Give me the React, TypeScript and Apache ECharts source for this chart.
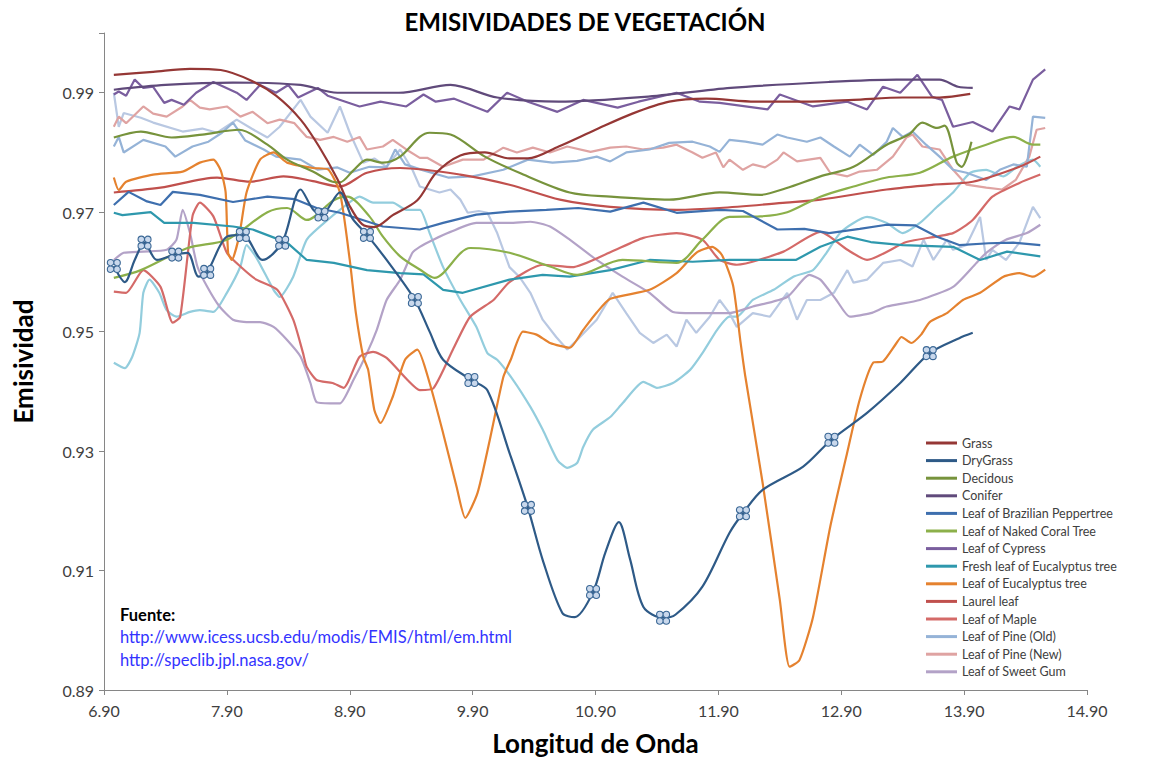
import React, { useEffect, useRef } from "react";
import * as echarts from "echarts";

type P = [number, number][];

const xTicks = { min: 6.9, max: 14.9, interval: 1 };
const yTicks = { min: 0.89, max: 1.0, interval: 0.02 };

const grass: P = [[6.98,0.993],[7.3,0.9935],[7.6,0.994],[7.85,0.9938],[8.1,0.992],[8.3,0.9895],[8.5,0.9855],[8.65,0.981],[8.8,0.9755],[8.9,0.971],[9.0,0.968],[9.1,0.9675],[9.25,0.9695],[9.45,0.972],[9.6,0.9765],[9.8,0.9795],[10.0,0.98],[10.2,0.979],[10.35,0.979],[10.6,0.981],[10.9,0.9838],[11.2,0.9865],[11.5,0.9885],[11.8,0.989],[12.2,0.9885],[12.6,0.9885],[13.0,0.9888],[13.4,0.9892],[13.7,0.9892],[13.95,0.9898]];

const dryGrass: P = [[6.98,0.961],[7.07,0.9583],[7.15,0.962],[7.23,0.9649],[7.33,0.962],[7.48,0.9629],[7.58,0.9632],[7.67,0.9592],[7.74,0.96],[7.9,0.9659],[8.03,0.9662],[8.19,0.962],[8.35,0.9649],[8.5,0.9738],[8.6,0.9705],[8.67,0.9696],[8.82,0.9733],[8.92,0.969],[9.04,0.9662],[9.2,0.962],[9.43,0.9553],[9.55,0.95],[9.66,0.9453],[9.89,0.9419],[10.02,0.9402],[10.2,0.9297],[10.35,0.9205],[10.47,0.9118],[10.63,0.9029],[10.73,0.9022],[10.88,0.9064],[10.98,0.913],[11.09,0.9181],[11.18,0.912],[11.29,0.9039],[11.45,0.9021],[11.55,0.9026],[11.77,0.9073],[11.99,0.9163],[12.1,0.9196],[12.26,0.9235],[12.59,0.9274],[12.82,0.9319],[13.11,0.9364],[13.38,0.9414],[13.62,0.9464],[13.86,0.9489],[13.97,0.9498]];
const dryGrassMarkers = [6.98,7.23,7.48,7.74,8.03,8.35,8.67,9.04,9.43,9.89,10.35,10.88,11.45,12.1,12.82,13.62];

const decidous: P = [[6.98,0.9825],[7.2,0.9835],[7.45,0.9825],[7.7,0.983],[8.0,0.9838],[8.23,0.9813],[8.39,0.9788],[8.6,0.9768],[8.76,0.9751],[8.82,0.975],[8.93,0.977],[9.04,0.9788],[9.17,0.9783],[9.31,0.9793],[9.47,0.9826],[9.55,0.9833],[9.72,0.983],[10.0,0.9793],[10.28,0.9766],[10.69,0.9733],[11.02,0.9726],[11.5,0.9721],[11.91,0.9733],[12.24,0.9729],[12.45,0.974],[12.73,0.976],[13.0,0.9776],[13.27,0.9813],[13.45,0.983],[13.56,0.985],[13.68,0.9841],[13.74,0.9845],[13.84,0.9783],[13.88,0.9776],[13.96,0.9818]];

const conifer: P = [[6.98,0.9905],[7.4,0.9913],[7.95,0.9917],[8.5,0.9913],[8.8,0.99],[9.3,0.99],[9.72,0.9913],[10.1,0.9892],[10.6,0.9885],[11.3,0.9893],[12.0,0.9908],[12.8,0.9918],[13.35,0.9922],[13.7,0.9922],[13.85,0.991],[13.97,0.9908]];

const brazilian: P = [[6.98,0.9712],[7.1,0.9734],[7.25,0.9718],[7.36,0.9712],[7.46,0.9734],[7.68,0.9729],[7.95,0.9717],[8.23,0.9726],[8.45,0.9722],[8.63,0.9707],[8.82,0.9699],[9.17,0.9676],[9.47,0.9671],[9.66,0.9682],[9.93,0.9696],[10.2,0.9701],[10.5,0.9704],[10.76,0.9707],[11.02,0.9701],[11.29,0.9716],[11.56,0.9699],[11.91,0.9704],[12.1,0.9702],[12.38,0.9671],[12.6,0.9672],[12.8,0.9665],[13.05,0.9672],[13.27,0.9679],[13.5,0.9678],[13.68,0.9659],[13.86,0.9645],[14.1,0.9648],[14.3,0.9649],[14.52,0.9645]];

const nakedCoral: P = [[6.98,0.959],[7.2,0.9603],[7.58,0.964],[7.9,0.9654],[8.23,0.97],[8.39,0.9707],[8.55,0.9687],[8.77,0.972],[8.88,0.9726],[9.06,0.9693],[9.17,0.9659],[9.31,0.9626],[9.47,0.9604],[9.59,0.959],[9.88,0.964],[10.2,0.9632],[10.53,0.9609],[10.75,0.9595],[11.12,0.962],[11.56,0.9615],[11.77,0.9654],[11.99,0.9692],[12.24,0.9693],[12.46,0.97],[12.73,0.9726],[13.0,0.9743],[13.27,0.9758],[13.54,0.9766],[13.81,0.9793],[14.08,0.9813],[14.3,0.9826],[14.46,0.9813],[14.52,0.9813]];

const cypress: P = [[6.98,0.9897],[7.02,0.9902],[7.08,0.9895],[7.15,0.9922],[7.22,0.9908],[7.3,0.991],[7.39,0.9883],[7.45,0.9888],[7.55,0.988],[7.65,0.99],[7.79,0.9918],[7.98,0.99],[8.06,0.9888],[8.17,0.9913],[8.3,0.99],[8.4,0.9913],[8.48,0.9892],[8.64,0.9908],[8.72,0.9895],[8.98,0.9877],[9.15,0.9885],[9.36,0.9877],[9.5,0.9897],[9.6,0.9885],[9.75,0.989],[10.02,0.9868],[10.18,0.99],[10.35,0.9885],[10.59,0.9868],[10.8,0.9888],[11.08,0.9875],[11.25,0.9885],[11.56,0.99],[11.75,0.9885],[11.91,0.9883],[12.3,0.9872],[12.4,0.9897],[12.67,0.9877],[12.95,0.9885],[13.11,0.9872],[13.24,0.991],[13.38,0.99],[13.52,0.993],[13.64,0.9893],[13.72,0.9888],[13.81,0.9843],[13.97,0.9851],[14.13,0.9835],[14.27,0.9877],[14.35,0.9872],[14.46,0.9922],[14.56,0.9939]];

const freshEucalyptus: P = [[6.98,0.9699],[7.05,0.9695],[7.28,0.97],[7.39,0.9682],[7.63,0.9682],[7.95,0.9676],[8.11,0.9671],[8.39,0.9649],[8.55,0.962],[8.77,0.9615],[9.04,0.9603],[9.31,0.9598],[9.5,0.9596],[9.66,0.957],[9.82,0.9565],[10.2,0.9587],[10.47,0.9595],[10.69,0.9592],[11.02,0.9603],[11.34,0.962],[11.69,0.9617],[11.99,0.962],[12.26,0.962],[12.53,0.962],[12.73,0.9642],[12.95,0.9659],[13.14,0.965],[13.4,0.9645],[13.81,0.9642],[14.03,0.962],[14.25,0.9634],[14.52,0.9626]];

const eucalyptus: P = [[6.98,0.9758],[7.02,0.9737],[7.08,0.9751],[7.3,0.9763],[7.54,0.9768],[7.68,0.9783],[7.79,0.9788],[7.85,0.977],[7.89,0.9733],[7.91,0.9632],[7.94,0.962],[8.0,0.966],[8.06,0.9733],[8.17,0.9788],[8.28,0.98],[8.39,0.9783],[8.6,0.9774],[8.72,0.9772],[8.82,0.9733],[8.9,0.962],[8.95,0.9531],[9.01,0.9458],[9.05,0.9436],[9.1,0.9369],[9.15,0.9347],[9.25,0.9391],[9.35,0.9453],[9.45,0.947],[9.55,0.9414],[9.66,0.933],[9.77,0.924],[9.84,0.9188],[9.94,0.923],[10.04,0.9319],[10.15,0.9424],[10.21,0.9453],[10.31,0.95],[10.42,0.9495],[10.53,0.9481],[10.69,0.9473],[10.8,0.9503],[10.91,0.9532],[11.02,0.9555],[11.34,0.957],[11.56,0.9598],[11.72,0.9632],[11.85,0.9642],[11.93,0.9628],[12.02,0.9577],[12.08,0.9483],[12.12,0.9424],[12.26,0.9247],[12.4,0.9051],[12.48,0.8939],[12.56,0.895],[12.67,0.9022],[12.81,0.9173],[12.94,0.929],[13.05,0.9386],[13.16,0.9448],[13.24,0.945],[13.35,0.9481],[13.39,0.9491],[13.47,0.9481],[13.55,0.9495],[13.62,0.9516],[13.76,0.9531],[13.89,0.9553],[14.03,0.9565],[14.22,0.9592],[14.35,0.9598],[14.46,0.9592],[14.56,0.9604]];

const laurel: P = [[6.98,0.9733],[7.36,0.9741],[7.82,0.9758],[8.09,0.9751],[8.36,0.976],[8.6,0.9752],[8.82,0.9743],[9.04,0.9766],[9.31,0.9774],[9.8,0.9763],[10.2,0.9746],[10.61,0.9721],[11.02,0.9709],[11.56,0.9704],[11.91,0.9707],[12.45,0.9716],[12.73,0.9721],[13.27,0.9738],[13.65,0.9746],[13.97,0.9751],[14.35,0.9776],[14.52,0.9793]];

const maple: P = [[6.98,0.9567],[7.08,0.9565],[7.22,0.9603],[7.36,0.9575],[7.46,0.9515],[7.52,0.9525],[7.62,0.9693],[7.68,0.9716],[7.79,0.9693],[7.9,0.9632],[8.01,0.9609],[8.14,0.9587],[8.31,0.957],[8.44,0.952],[8.52,0.9464],[8.55,0.9441],[8.63,0.9419],[8.76,0.9414],[8.85,0.9406],[8.98,0.9458],[9.09,0.9466],[9.2,0.9456],[9.37,0.9419],[9.47,0.9402],[9.58,0.9405],[9.74,0.947],[9.88,0.9525],[10.07,0.9553],[10.2,0.9583],[10.47,0.9612],[10.71,0.9608],[11.02,0.9633],[11.29,0.9657],[11.56,0.9665],[11.77,0.9654],[11.91,0.962],[12.05,0.9612],[12.43,0.9634],[12.73,0.9667],[12.95,0.9637],[13.11,0.962],[13.43,0.965],[13.81,0.9665],[13.97,0.9687],[14.13,0.9726],[14.35,0.9749],[14.52,0.9763]];

const pineOld: P = [[6.98,0.981],[7.02,0.9826],[7.06,0.98],[7.22,0.9821],[7.4,0.981],[7.48,0.9793],[7.62,0.981],[7.75,0.9818],[7.86,0.9833],[7.95,0.985],[8.05,0.982],[8.2,0.9805],[8.3,0.9793],[8.5,0.9788],[8.64,0.9771],[8.8,0.9775],[8.9,0.9766],[9.06,0.9776],[9.2,0.9775],[9.27,0.9805],[9.35,0.978],[9.5,0.977],[9.7,0.9758],[9.9,0.976],[10.15,0.9771],[10.35,0.9788],[10.55,0.9783],[10.75,0.9786],[10.91,0.9793],[11.02,0.9785],[11.15,0.98],[11.34,0.9805],[11.5,0.9816],[11.69,0.9818],[11.83,0.981],[11.91,0.9801],[11.99,0.9821],[12.12,0.9818],[12.26,0.9813],[12.38,0.983],[12.46,0.9825],[12.62,0.9818],[12.73,0.9825],[12.84,0.981],[12.97,0.9793],[13.05,0.9813],[13.16,0.9796],[13.27,0.9818],[13.32,0.9841],[13.4,0.9826],[13.48,0.9835],[13.59,0.9813],[13.7,0.9793],[13.81,0.9771],[13.92,0.9766],[14.08,0.9754],[14.19,0.9771],[14.3,0.978],[14.41,0.9776],[14.46,0.986],[14.56,0.9858]];

const pineNew: P = [[6.98,0.9843],[7.02,0.986],[7.08,0.9849],[7.22,0.9877],[7.3,0.9865],[7.41,0.986],[7.54,0.9877],[7.6,0.9888],[7.68,0.9875],[7.76,0.9872],[7.9,0.9877],[8.01,0.986],[8.11,0.9868],[8.23,0.9849],[8.33,0.9855],[8.45,0.9849],[8.55,0.9826],[8.66,0.9821],[8.77,0.9826],[8.88,0.9818],[8.98,0.9826],[9.04,0.9805],[9.17,0.981],[9.25,0.9821],[9.36,0.9805],[9.47,0.9791],[9.53,0.9791],[9.66,0.9776],[9.82,0.9788],[9.99,0.9788],[10.15,0.9808],[10.26,0.98],[10.39,0.9808],[10.53,0.98],[10.67,0.981],[10.86,0.9801],[11.02,0.9808],[11.15,0.981],[11.29,0.9805],[11.45,0.9808],[11.56,0.9813],[11.69,0.98],[11.77,0.9791],[11.88,0.98],[11.94,0.9775],[11.99,0.9788],[12.1,0.9771],[12.18,0.978],[12.28,0.9775],[12.38,0.9788],[12.43,0.98],[12.54,0.9785],[12.73,0.9791],[12.81,0.9766],[12.95,0.976],[13.05,0.9768],[13.19,0.9771],[13.32,0.9793],[13.43,0.9825],[13.48,0.983],[13.56,0.981],[13.7,0.9805],[13.81,0.9771],[13.92,0.9746],[14.08,0.9741],[14.21,0.9738],[14.32,0.9754],[14.43,0.9793],[14.49,0.9838],[14.56,0.9841]];

const sweetGum: P = [[6.98,0.962],[7.06,0.9632],[7.22,0.9634],[7.41,0.9637],[7.49,0.9654],[7.54,0.9704],[7.6,0.9665],[7.66,0.9609],[7.74,0.9575],[7.84,0.9542],[7.95,0.952],[8.06,0.9516],[8.17,0.9516],[8.28,0.9508],[8.39,0.9486],[8.5,0.9458],[8.58,0.9414],[8.63,0.9382],[8.74,0.938],[8.82,0.938],[8.93,0.9419],[9.04,0.9464],[9.12,0.9503],[9.2,0.9553],[9.31,0.9587],[9.41,0.9632],[9.47,0.9642],[9.58,0.9654],[9.72,0.9667],[9.93,0.9682],[10.2,0.9682],[10.37,0.9684],[10.53,0.9676],[10.69,0.9654],[10.91,0.962],[11.12,0.9592],[11.34,0.9565],[11.53,0.9533],[11.69,0.9531],[11.99,0.9531],[12.18,0.9542],[12.46,0.9558],[12.64,0.9595],[12.73,0.9587],[12.86,0.9553],[12.97,0.9525],[13.14,0.9531],[13.27,0.9542],[13.54,0.9553],[13.81,0.9575],[14.0,0.9615],[14.08,0.9632],[14.24,0.9654],[14.41,0.9665],[14.52,0.9679]];

const serie15: P = [[6.98,0.99],[7.02,0.9843],[7.06,0.9866],[7.2,0.9858],[7.3,0.985],[7.54,0.9835],[7.7,0.984],[7.82,0.9833],[7.98,0.9855],[8.1,0.984],[8.23,0.9825],[8.33,0.9843],[8.5,0.9888],[8.58,0.986],[8.72,0.9833],[8.82,0.9877],[8.9,0.9833],[9.01,0.9783],[9.1,0.979],[9.2,0.9776],[9.31,0.9805],[9.41,0.9771],[9.47,0.9743],[9.63,0.9733],[9.72,0.9738],[9.8,0.9721],[9.86,0.9699],[9.95,0.9702],[10.02,0.9699],[10.1,0.9665],[10.2,0.9608],[10.28,0.9592],[10.37,0.9565],[10.47,0.952],[10.58,0.9491],[10.67,0.947],[10.75,0.9486],[10.91,0.952],[11.04,0.9565],[11.15,0.9531],[11.26,0.9498],[11.37,0.9481],[11.48,0.9495],[11.56,0.9475],[11.64,0.952],[11.72,0.9498],[11.83,0.9525],[11.91,0.9553],[11.99,0.9531],[12.05,0.9508],[12.18,0.9531],[12.32,0.9525],[12.46,0.9565],[12.54,0.952],[12.62,0.9553],[12.73,0.9553],[12.84,0.9565],[12.95,0.9603],[13.0,0.9582],[13.11,0.9587],[13.24,0.9615],[13.38,0.962],[13.48,0.9609],[13.57,0.9654],[13.65,0.962],[13.76,0.9654],[13.81,0.9637],[13.92,0.9645],[14.03,0.9692],[14.08,0.962],[14.13,0.9637],[14.24,0.962],[14.35,0.9649],[14.46,0.9709],[14.52,0.969]];

const serie16: P = [[6.98,0.9448],[7.07,0.9439],[7.13,0.9458],[7.19,0.9498],[7.22,0.9565],[7.27,0.9587],[7.35,0.9565],[7.41,0.9536],[7.49,0.9525],[7.6,0.9533],[7.68,0.9536],[7.79,0.9533],[7.9,0.9565],[8.01,0.9609],[8.06,0.9645],[8.14,0.9624],[8.28,0.957],[8.33,0.9558],[8.44,0.9592],[8.55,0.9654],[8.72,0.9687],[8.82,0.9704],[8.98,0.9726],[9.09,0.9716],[9.25,0.9716],[9.36,0.9704],[9.47,0.9704],[9.55,0.9665],[9.66,0.9608],[9.8,0.9553],[9.93,0.9508],[10.02,0.9464],[10.1,0.9453],[10.23,0.9419],[10.37,0.9374],[10.47,0.9336],[10.59,0.9285],[10.67,0.9272],[10.75,0.928],[10.8,0.9307],[10.88,0.9336],[11.02,0.9357],[11.12,0.938],[11.29,0.9416],[11.4,0.9406],[11.53,0.9414],[11.67,0.9436],[11.77,0.9464],[11.89,0.9503],[11.99,0.9525],[12.05,0.9525],[12.18,0.9553],[12.35,0.957],[12.51,0.9592],[12.67,0.9603],[12.78,0.9632],[12.89,0.9665],[13.0,0.9682],[13.11,0.9692],[13.27,0.9682],[13.4,0.9665],[13.54,0.9682],[13.68,0.9709],[13.81,0.9733],[13.95,0.9766],[14.08,0.9771],[14.22,0.976],[14.33,0.9776],[14.46,0.9788],[14.52,0.9776]];

const legendNames = ["Grass","DryGrass","Decidous","Conifer","Leaf of Brazilian Peppertree","Leaf of Naked Coral Tree","Leaf of Cypress","Fresh leaf of Eucalyptus tree","Leaf of Eucalyptus tree","Laurel leaf","Leaf of Maple","Leaf of Pine (Old)","Leaf of Pine (New)","Leaf of Sweet Gum"];

const sourceLines = ["Fuente:", "http://www.icess.ucsb.edu/modis/EMIS/html/em.html", "http://speclib.jpl.nasa.gov/"];

const FONT = "Lato, 'Open Sans', sans-serif";
const MARKER = "path://M-2,-1a1,1 0 1,0 2,0a1,1 0 1,0 -2,0M0,-1a1,1 0 1,0 2,0a1,1 0 1,0 -2,0M-2,1a1,1 0 1,0 2,0a1,1 0 1,0 -2,0M0,1a1,1 0 1,0 2,0a1,1 0 1,0 -2,0";

const defs: { name: string; data: P; color: string; smooth: number | boolean }[] = [
  { name: "Serie 16", data: serie16, color: "#93CDDD", smooth: 0.2 },
  { name: "Serie 15", data: serie15, color: "#B9C8E2", smooth: false },
  { name: "Leaf of Sweet Gum", data: sweetGum, color: "#B3A2C7", smooth: 0.2 },
  { name: "Leaf of Pine (New)", data: pineNew, color: "#DFA3A2", smooth: false },
  { name: "Leaf of Pine (Old)", data: pineOld, color: "#95B3D7", smooth: false },
  { name: "Leaf of Maple", data: maple, color: "#D46A68", smooth: 0.2 },
  { name: "Laurel leaf", data: laurel, color: "#C0504D", smooth: 0.3 },
  { name: "Leaf of Eucalyptus tree", data: eucalyptus, color: "#E5822F", smooth: 0.2 },
  { name: "Fresh leaf of Eucalyptus tree", data: freshEucalyptus, color: "#2E98AD", smooth: false },
  { name: "Leaf of Cypress", data: cypress, color: "#7A5E9E", smooth: false },
  { name: "Leaf of Naked Coral Tree", data: nakedCoral, color: "#8CB04A", smooth: 0.3 },
  { name: "Leaf of Brazilian Peppertree", data: brazilian, color: "#3E6FAE", smooth: false },
  { name: "Conifer", data: conifer, color: "#604A7B", smooth: 0.3 },
  { name: "Decidous", data: decidous, color: "#77933C", smooth: 0.3 },
  { name: "Grass", data: grass, color: "#953735", smooth: 0.3 },
  { name: "DryGrass", data: dryGrass, color: "#2E5A87", smooth: 0.3 },
];

export default function App() {
  const ref = useRef<HTMLDivElement>(null);
  useEffect(() => {
    if (!ref.current) return;
    const chart = echarts.init(ref.current, null, { renderer: "svg" });
    const series = defs.map((d) => {
      const isDry = d.name === "DryGrass";
      return {
        name: d.name,
        type: "line",
        data: d.data,
        smooth: d.smooth,
        symbol: isDry
          ? (v: number[]) => (dryGrassMarkers.includes(v[0]) ? MARKER : "none")
          : "none",
        symbolSize: 13,
        showSymbol: isDry,
        showAllSymbol: true,
        lineStyle: { color: d.color, width: 2.2 },
        itemStyle: isDry
          ? { color: "#C9D8EC", borderColor: "#3B6896", borderWidth: 1.1 }
          : { color: d.color },
        emphasis: { disabled: true },
        z: isDry ? 5 : 2,
      };
    });
    const colorOf = (n: string) => defs.find((d) => d.name === n)!.color;
    chart.setOption({
      animation: false,
      backgroundColor: "#ffffff",
      textStyle: { fontFamily: FONT },
      title: {
        text: "EMISIVIDADES DE VEGETACIÓN",
        left: 580,
        textAlign: "center",
        top: 4,
        textStyle: { fontFamily: FONT, fontSize: 24, fontWeight: "bold", color: "#000" },
      },
      grid: { left: 104, right: 72, top: 33, bottom: 73 },
      legend: {
        data: legendNames.map((n) => ({
          name: n,
          itemStyle: { color: colorOf(n), borderWidth: 0 },
        })),
        orient: "vertical",
        left: 921,
        top: 431,
        icon: "rect",
        itemWidth: 31,
        itemHeight: 3,
        itemGap: 3.6,
        textStyle: { fontFamily: FONT, fontSize: 12.5, color: "#404040", lineHeight: 14 },
      },
      xAxis: {
        type: "value",
        min: xTicks.min,
        max: xTicks.max,
        interval: xTicks.interval,
        name: "Longitud de Onda",
        nameLocation: "middle",
        nameGap: 40,
        nameTextStyle: { fontFamily: FONT, fontSize: 26, fontWeight: "bold", color: "#000" },
        axisLine: { lineStyle: { color: "#868686", width: 1 } },
        axisTick: { show: true, length: 5, lineStyle: { color: "#868686" } },
        axisLabel: {
          fontFamily: FONT,
          fontSize: 16,
          color: "#404040",
          margin: 12,
          formatter: (v: number) => v.toFixed(2),
        },
        splitLine: { show: false },
      },
      yAxis: {
        type: "value",
        min: yTicks.min,
        max: yTicks.max,
        interval: yTicks.interval,
        name: "Emisividad",
        nameLocation: "middle",
        nameGap: 68,
        nameTextStyle: { fontFamily: FONT, fontSize: 26, fontWeight: "bold", color: "#000" },
        axisLine: { show: true, lineStyle: { color: "#868686", width: 1 } },
        axisTick: { show: true, length: 5, lineStyle: { color: "#868686" } },
        axisLabel: {
          fontFamily: FONT,
          fontSize: 16,
          color: "#404040",
          margin: 10,
          formatter: (v: number) => (v > 0.995 ? "" : v.toFixed(2)),
        },
        splitLine: { show: false },
      },
      graphic: sourceLines.map((t, i) => ({
        type: "text",
        left: 120,
        top: 606 + i * 22.5,
        style: {
          text: t,
          fontFamily: FONT,
          fontSize: 16.5,
          fontWeight: i === 0 ? "bold" : "normal",
          fill: i === 0 ? "#000" : "#3333FF",
        },
      })),
      series,
    });
    return () => chart.dispose();
  }, []);
  return (
    <div
      ref={ref}
      style={{ position: "fixed", left: 0, top: 0, width: 1159, height: 763 }}
    />
  );
}
